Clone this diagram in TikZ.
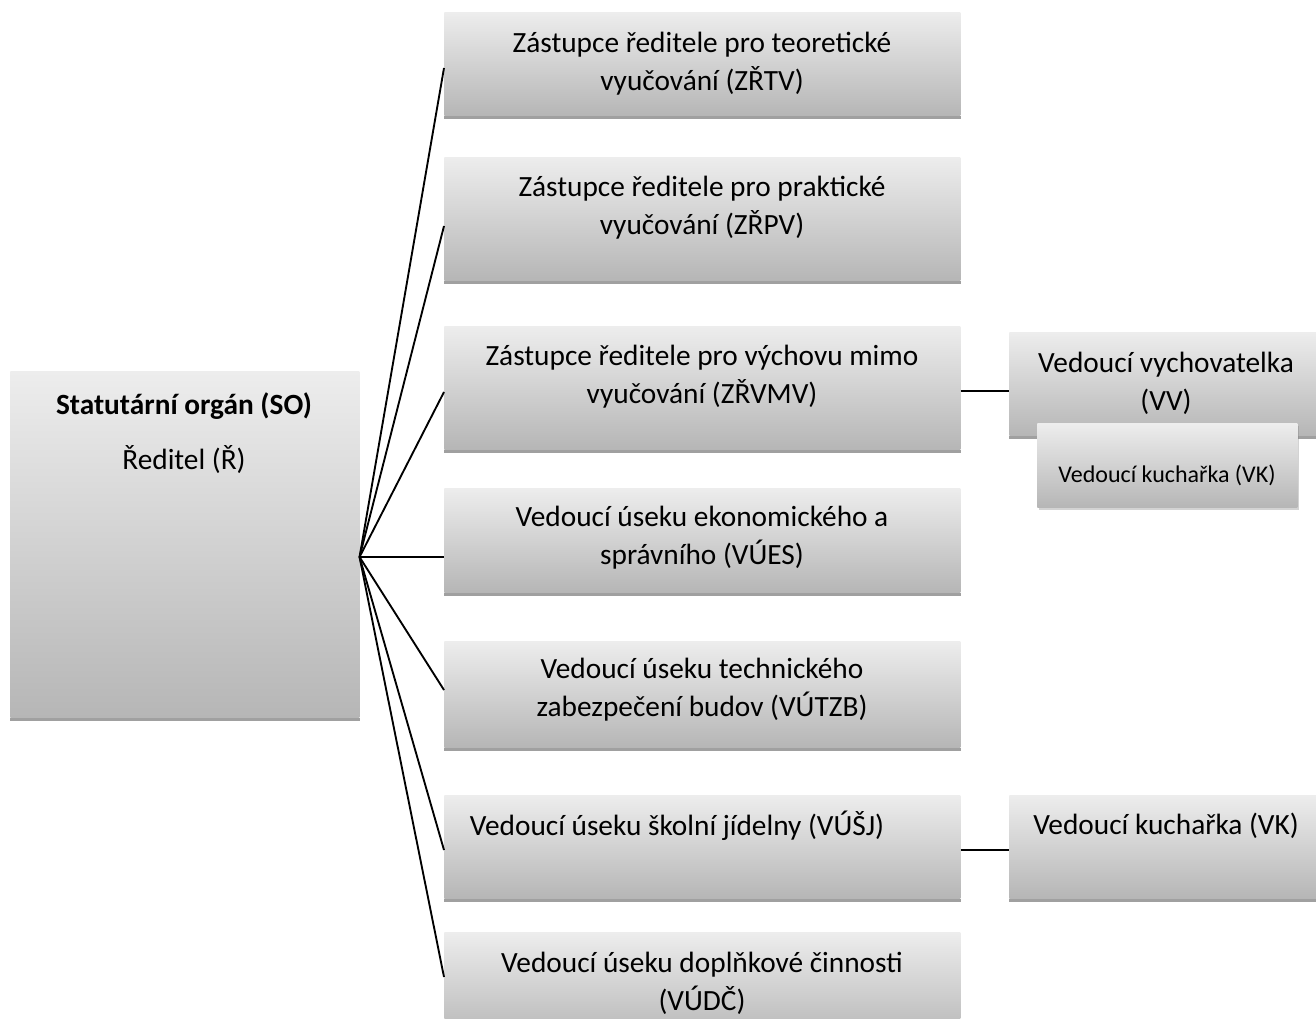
\documentclass[tikz,border=0pt]{standalone}
\usepackage{fontspec}
\setmainfont{Carlito}
\usetikzlibrary{calc,shadows}
\definecolor{boxtop}{RGB}{237,237,237}
\definecolor{boxbot}{RGB}{182,182,182}
\definecolor{stripc}{RGB}{160,160,160}
\tikzset{
  orgbox/.style={rectangle, inner sep=0pt, top color=boxtop, bottom color=boxbot, draw=none, anchor=north west},
  rbox/.style={orgbox, minimum width=387pt},
  sidebox/.style={orgbox, minimum width=237pt, minimum height=77.25pt},
  txt/.style={align=center, inner sep=0pt, font=\fontsize{22pt}{28.5pt}\selectfont},
  smalltxt/.style={align=center, inner sep=0pt, font=\fontsize{18pt}{22pt}\selectfont},
  link/.style={draw=black, line width=1.4pt},
}
\begin{document}
\begin{tikzpicture}[x=0.75pt,y=-0.75pt]
\useasboundingbox (0,0) rectangle (1316,1019);
% boxes
\node[orgbox, minimum width=261.75pt, minimum height=259.5pt] (so) at (10,371) {};
\node[rbox, minimum height=77.25pt] (b1) at (444,12) {};
\node[rbox, minimum height=92.25pt] (b2) at (444,157) {};
\node[rbox, minimum height=92.25pt] (b3) at (444,326) {};
\node[rbox, minimum height=78pt] (b4) at (444,488) {};
\node[rbox, minimum height=79.5pt] (b5) at (444,641) {};
\node[rbox, minimum height=77.25pt] (b6) at (444,795) {};
\node[rbox, minimum height=81pt] (b7) at (444,932) {};
\node[sidebox] (vv) at (1009,332) {};
\node[sidebox] (vk2) at (1009,795) {};
% bottom strips
\foreach \n in {so,b1,b2,b3,b4,b5,b6,b7,vv,vk2}
  \fill[stripc] (\n.south west) rectangle ($(\n.south east)+(0,3.5)$);
% small overlapping box
\node[orgbox, minimum width=195pt, minimum height=63pt,
      drop shadow={shadow xshift=1pt, shadow yshift=-2pt, opacity=0.35}] (vks) at (1037,423) {};
% texts
\node[txt, font=\fontsize{22pt}{28.5pt}\selectfont\bfseries] (tso1) at (184,406) {Statutární orgán (SO)};
\node[txt] (tso2) at (184,460) {Ředitel (Ř)};
\node[txt] (t1) at (702,64) {Zástupce ředitele pro teoretické\\vyučování (ZŘTV)};
\node[txt] (t2) at (702,208) {Zástupce ředitele pro praktické\\vyučování (ZŘPV)};
\node[txt] (t3) at (702,377) {Zástupce ředitele pro výchovu mimo\\vyučování (ZŘVMV)};
\node[txt] (t4) at (702,538) {Vedoucí úseku ekonomického a\\správního (VÚES)};
\node[txt] (t5) at (702,690) {Vedoucí úseku technického\\zabezpečení budov (VÚTZB)};
\node[txt] (t6) at (677,826) {Vedoucí úseku školní jídelny (VÚŠJ)};
\node[txt] (t7) at (702,983) {Vedoucí úseku doplňkové činnosti\\(VÚDČ)};
\node[txt] (tvv) at (1166,383) {Vedoucí vychovatelka\\(VV)};
\node[txt] (tvk2) at (1166,826) {Vedoucí kuchařka (VK)};
\node[smalltxt] (tvks) at (1167,475) {Vedoucí kuchařka (VK)};
% connectors
\coordinate (hub) at ($(so.north east)+(0,186)$);
\foreach \b/\d in {b1/56, b2/69, b3/66, b4/69, b5/49, b6/55, b7/45}
  \draw[link] (hub) -- ($(\b.north west)+(0,\d)$);
\coordinate (l3) at ($(b3.north east)+(0,65)$);
\draw[link] (l3) -- (l3 -| vv.west);
\coordinate (l6) at ($(b6.north east)+(0,55)$);
\draw[link] (l6) -- (l6 -| vk2.west);
\end{tikzpicture}
\end{document}
